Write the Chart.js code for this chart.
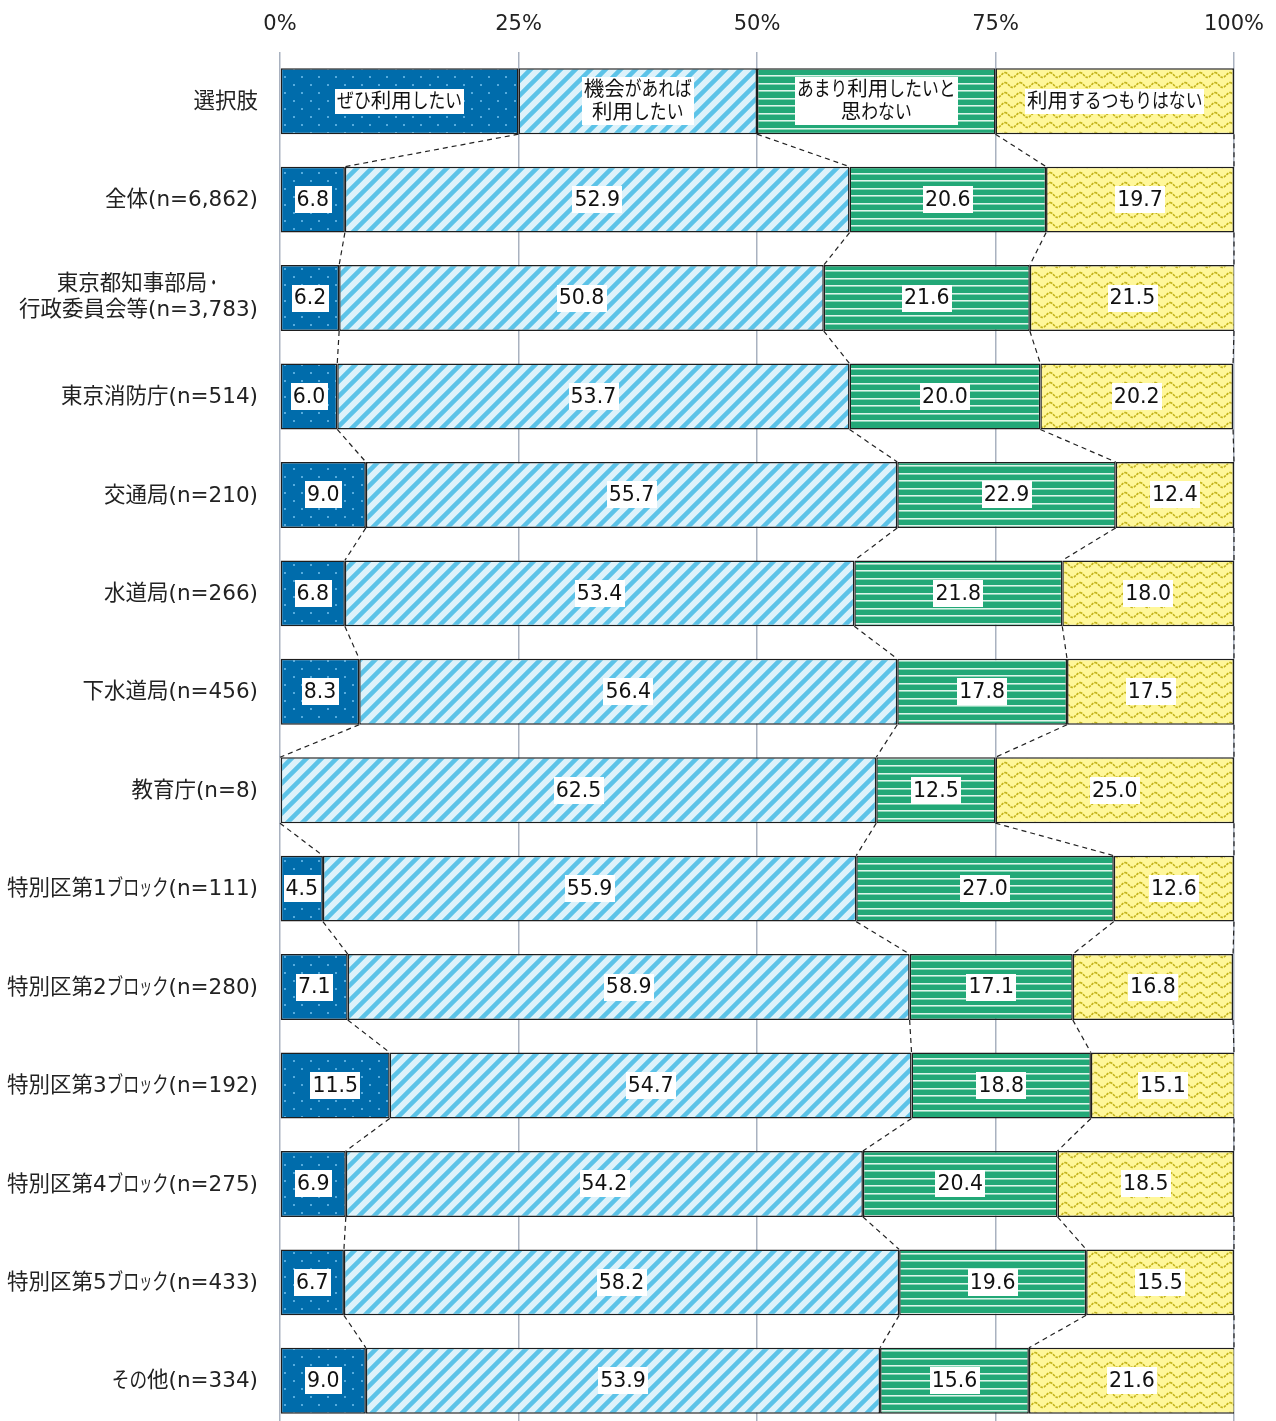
<!DOCTYPE html>
<html><head><meta charset="utf-8">
<script src="https://cdn.jsdelivr.net/npm/chart.js@4"></script>
<style>html,body{margin:0;padding:0;background:#fff;overflow:hidden}
#wrap{position:relative;width:1276px;height:1430px;overflow:hidden}</style></head>
<body><div id="wrap"><canvas id="c" width="1276" height="1430"></canvas></div>
<script>
const categories = [
  ['選択肢'],
  ['全体(n=6,862)'],
  ['東京都知事部局・','行政委員会等(n=3,783)'],
  ['東京消防庁(n=514)'],
  ['交通局(n=210)'],
  ['水道局(n=266)'],
  ['下水道局(n=456)'],
  ['教育庁(n=8)'],
  ['特別区第1ブロック(n=111)'],
  ['特別区第2ブロック(n=280)'],
  ['特別区第3ブロック(n=192)'],
  ['特別区第4ブロック(n=275)'],
  ['特別区第5ブロック(n=433)'],
  ['その他(n=334)']
];
const seriesNames = [
  ['ぜひ利用したい'],
  ['機会があれば','利用したい'],
  ['あまり利用したいと','思わない'],
  ['利用するつもりはない']
];
const valsDefinitely = [25, 6.8, 6.2, 6.0, 9.0, 6.8, 8.3, 0, 4.5, 7.1, 11.5, 6.9, 6.7, 9.0];
const valsIfChance   = [25, 52.9, 50.8, 53.7, 55.7, 53.4, 56.4, 62.5, 55.9, 58.9, 54.7, 54.2, 58.2, 53.9];
const valsNotMuch    = [25, 20.6, 21.6, 20.0, 22.9, 21.8, 17.8, 12.5, 27.0, 17.1, 18.8, 20.4, 19.6, 15.6];
const valsNever      = [25, 19.7, 21.5, 20.2, 12.4, 18.0, 17.5, 25.0, 12.6, 16.8, 15.1, 18.5, 15.5, 21.6];
const xTickValues = [0, 25, 50, 75, 100];

const seriesValues = [valsDefinitely, valsIfChance, valsNotMuch, valsNever];
const FONT = '"DejaVu Sans", "Noto Sans CJK JP", sans-serif';

// ---- text helpers: kana drawn narrower (like a UI font with proportional kana)
const SMALL_KANA = 'ぁぃぅぇぉっゃゅょゎァィゥェォッャュョヮ・';
function charScale(ch){
  const c = ch.charCodeAt(0);
  if (SMALL_KANA.includes(ch)) return 0.6;
  if (c >= 0x3040 && c <= 0x309F) return 0.82;
  if (c >= 0x30A0 && c <= 0x30FF) return 0.76;
  return 1;
}
function splitRuns(text){
  const runs = [];
  for (const ch of text){
    const s = charScale(ch);
    if (runs.length && runs[runs.length-1].s === s) runs[runs.length-1].t += ch;
    else runs.push({t: ch, s});
  }
  return runs;
}
function measureRich(ctx, text){
  return splitRuns(text).reduce((a, r) => a + ctx.measureText(r.t).width * r.s, 0);
}
function drawRich(ctx, text, x, y){
  ctx.textAlign = 'left';
  for (const r of splitRuns(text)){
    const w = ctx.measureText(r.t).width;
    if (r.s === 1) ctx.fillText(r.t, x, y);
    else { ctx.save(); ctx.translate(x, y); ctx.scale(r.s, 1); ctx.fillText(r.t, 0, 0); ctx.restore(); }
    x += w * r.s;
  }
}

function makePattern(w, h, draw){
  const c = document.createElement('canvas'); c.width = w; c.height = h;
  const g = c.getContext('2d'); draw(g, w, h);
  return g.createPattern(c, 'repeat');
}
const patDots = makePattern(17, 16, (g,w,h)=>{
  g.fillStyle = '#006CAB'; g.fillRect(0,0,w,h);
  g.fillStyle = '#55ABDD'; g.fillRect(4,4,2,2); g.fillRect(12,12,2,2);
});
const patStripes = makePattern(15, 15, (g,w,h)=>{
  g.fillStyle = '#DDF2FA'; g.fillRect(0,0,w,h);
  g.strokeStyle = '#5CC3E8'; g.lineWidth = 4.5;
  g.beginPath();
  g.moveTo(-w, w); g.lineTo(w, -w);
  g.moveTo(-w, 2*w); g.lineTo(2*w, -w);
  g.moveTo(0, 2*w); g.lineTo(2*w, 0);
  g.stroke();
});
const patLines = makePattern(4, 15, (g,w,h)=>{
  g.fillStyle = '#22A877'; g.fillRect(0,0,w,h);
  g.fillStyle = '#DDF4EA'; g.fillRect(0,0,w,1); g.fillRect(0,8,w,1);
  g.fillStyle = '#8AD5B7'; g.fillRect(0,1,w,1); g.fillRect(0,9,w,1);
});
const patWave = makePattern(15, 10, (g,w,h)=>{
  g.fillStyle = '#FFF79A'; g.fillRect(0,0,w,h);
  g.strokeStyle = '#C4B41C'; g.lineWidth = 1.7; g.setLineDash([2.5,1]);
  g.beginPath();
  for(let x=0; x<=w; x+=0.5){
    const y = 5 - 2.4*Math.cos(2*Math.PI*x/w);
    if(x===0) g.moveTo(x,y); else g.lineTo(x,y);
  }
  g.stroke();
});
const patterns = [patDots, patStripes, patLines, patWave];

const valueLabelPlugin = {
  id: 'valueLabels',
  afterDatasetsDraw(chart){
    const ctx = chart.ctx;
    ctx.save();
    ctx.textBaseline = 'middle';
    chart.data.datasets.forEach((ds, di)=>{
      const meta = chart.getDatasetMeta(di);
      meta.data.forEach((el, i)=>{
        const v = ds.data[i];
        if(!v) return;
        let lines, lh;
        if(i === 0){ lines = seriesNames[di]; ctx.font = '20.5px ' + FONT; lh = 23; }
        else { lines = [v.toFixed(1)]; ctx.font = '20.5px ' + FONT; lh = 25; }
        const cx = (el.x + el.base)/2, cy = el.y;
        const widths = lines.map(l=>measureRich(ctx, l));
        const w = Math.max(...widths);
        const h = lines.length*lh + 2;
        ctx.fillStyle = '#fff';
        ctx.fillRect(Math.round(cx - w/2 - 2), Math.round(cy - h/2), Math.round(w + 4), Math.round(h));
        ctx.fillStyle = '#111';
        lines.forEach((l,k)=> drawRich(ctx, l, cx - widths[k]/2, cy + (k - (lines.length-1)/2)*lh + 1));
      });
    });
    ctx.restore();
  }
};

const connectorPlugin = {
  id: 'connectors',
  afterDatasetsDraw(chart){
    const ctx = chart.ctx;
    const metas = chart.data.datasets.map((d,i)=>chart.getDatasetMeta(i));
    const n = chart.data.labels.length;
    const right = chart.chartArea.right;
    ctx.save();
    ctx.strokeStyle = '#222'; ctx.lineWidth = 1.2; ctx.setLineDash([5,4]);
    for(let i=0; i<n-1; i++){
      const a = metas[0].data[i], b = metas[0].data[i+1];
      const y1 = a.y + a.height/2, y2 = b.y - b.height/2;
      metas.forEach(m=>{
        const x1 = Math.min(m.data[i].x, right), x2 = Math.min(m.data[i+1].x, right);
        ctx.beginPath(); ctx.moveTo(x1, y1); ctx.lineTo(x2, y2); ctx.stroke();
      });
    }
    ctx.restore();
  }
};

const categoryLabelPlugin = {
  id: 'categoryLabels',
  afterDraw(chart){
    const ctx = chart.ctx;
    const meta = chart.getDatasetMeta(0);
    const xr = chart.chartArea.left - 22;
    ctx.save();
    ctx.font = '21.5px ' + FONT; ctx.fillStyle = '#222';
    ctx.textBaseline = 'middle';
    categories.forEach((lines, i)=>{
      const el = meta.data[i];
      const widths = lines.map(l=>measureRich(ctx, l));
      const w = Math.max(...widths);
      const cx = xr - w/2;
      const lh = 26;
      lines.forEach((l,k)=> drawRich(ctx, l, cx - widths[k]/2,
        el.y + 1 + (k - (lines.length-1)/2)*lh - (lines.length>1?2:0)));
    });
    ctx.restore();
  }
};

new Chart(document.getElementById('c'), {
  type: 'bar',
  data: {
    labels: categories.map(c=>c.join('')),
    datasets: seriesValues.map((vals,k)=>({
      label: seriesNames[k].join(''),
      data: vals,
      backgroundColor: patterns[k],
      borderColor: '#1e1e1e',
      borderWidth: 1.5,
      borderSkipped: false,
      barPercentage: 0.67,
      categoryPercentage: 1
    }))
  },
  options: {
    responsive: false,
    animation: false,
    devicePixelRatio: 1,
    indexAxis: 'y',
    layout: { padding: { left: 0, right: 42, top: 0, bottom: 0 } },
    plugins: { legend: { display: false }, tooltip: { enabled: false } },
    scales: {
      x: {
        position: 'top', stacked: true, min: 0, max: 100,
        afterBuildTicks: s => { s.ticks = xTickValues.map(v=>({value: v})); },
        ticks: { callback: v => v + '%', font: { family: FONT, size: 21 }, color: '#222', padding: 15, maxRotation: 0, autoSkip: false },
        grid: { color: '#A9B2C0', lineWidth: 1.5, drawTicks: false },
        border: { display: false },
        afterFit: s => { s.height = 52; s.paddingLeft = 0; s.paddingRight = 0; }
      },
      y: {
        stacked: true,
        ticks: { display: false },
        grid: { display: false },
        border: { display: false },
        afterFit: s => { s.width = 280; }
      }
    }
  },
  plugins: [connectorPlugin, valueLabelPlugin, categoryLabelPlugin]
});
</script>
</body></html>
